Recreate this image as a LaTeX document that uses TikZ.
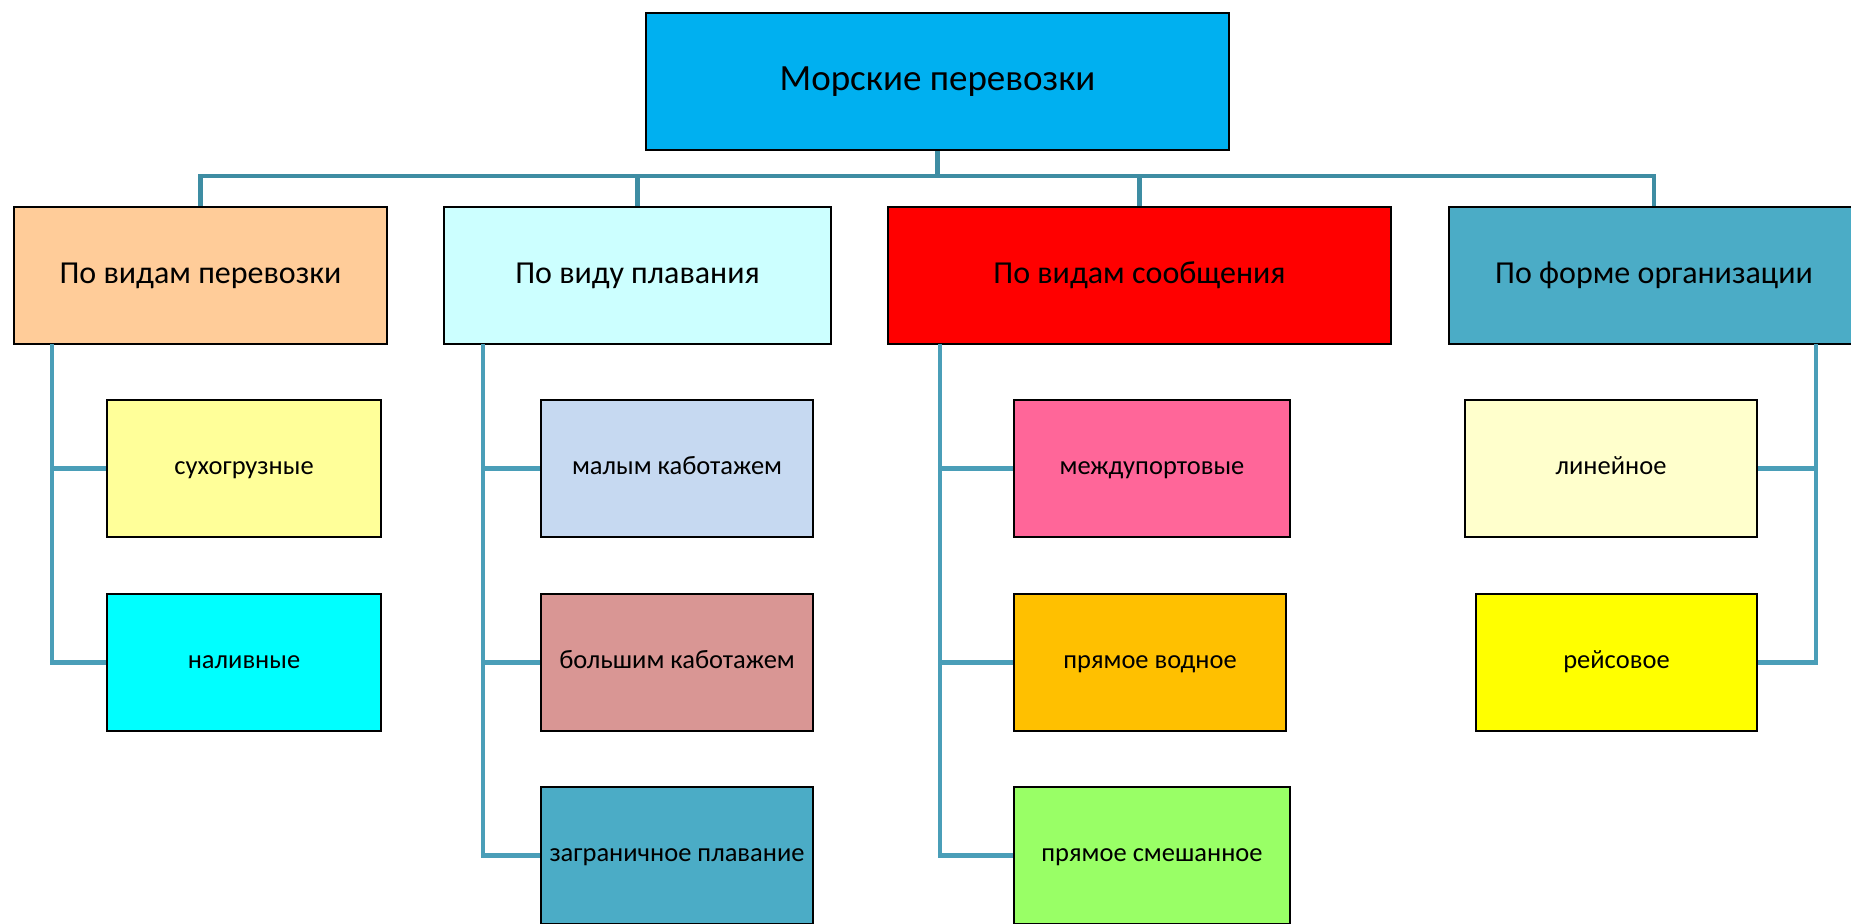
\documentclass[tikz,border=0pt]{standalone}
\usepackage{fontspec}
\setmainfont{Carlito}
\usepackage{tikz}

\definecolor{cTop}{HTML}{00B0F0}
\definecolor{cPeach}{HTML}{FFCC99}
\definecolor{cIce}{HTML}{CCFFFF}
\definecolor{cRed}{HTML}{FF0000}
\definecolor{cTeal}{HTML}{4BACC6}
\definecolor{cLemon}{HTML}{FFFF99}
\definecolor{cAqua}{HTML}{00FFFF}
\definecolor{cSky}{HTML}{C6D9F1}
\definecolor{cRose}{HTML}{D99694}
\definecolor{cPink}{HTML}{FF6699}
\definecolor{cAmber}{HTML}{FFC000}
\definecolor{cLime}{HTML}{99FF66}
\definecolor{cCream}{HTML}{FFFFCC}
\definecolor{cYellow}{HTML}{FFFF00}
\definecolor{cBus}{HTML}{3E8DA3}
\definecolor{cLink}{HTML}{4A9EB8}

\tikzset{
  box/.style={draw=black, line width=2.5pt, minimum height=137pt, inner sep=0pt, anchor=center},
  rootbox/.style={box, font=\fontsize{37}{42}\selectfont, text height=27pt, text depth=9.6pt},
  catbox/.style={box, font=\fontsize{32}{37}\selectfont, text height=23pt, text depth=8pt},
  itembox/.style={box, font=\fontsize{26.5}{31}\selectfont, text height=19.5pt, text depth=7pt},
  bus/.style={draw=cBus, line width=4.5pt},
  link/.style={draw=cLink, line width=4.5pt}
}

\begin{document}
\begin{tikzpicture}[x=1pt, y=-1pt]
\useasboundingbox (0,0) rectangle (1851,923);
\fill[white] (0,0) rectangle (1851,923);
\clip (0,0) rectangle (1851,923);

% root
\node[rootbox, fill=cTop, minimum width=583pt] (root) at (937.5,81.5) {Морские перевозки};

% categories
\node[catbox, fill=cPeach, minimum width=373pt] (vid) at (200.5,275.5) {По видам перевозки};
\node[catbox, fill=cIce, minimum width=387pt] (plav) at (637.5,275.5) {По виду плавания};
\node[catbox, fill=cRed, minimum width=503pt] (soob) at (1139.5,275.5) {По видам сообщения};
\node[catbox, fill=cTeal, minimum width=410pt] (org) at (1654,275.5) {По форме организации};

% items
\node[itembox, fill=cLemon, minimum width=274pt] (suh) at (244,468.5) {сухогрузные};
\node[itembox, fill=cAqua, minimum width=274pt] (nal) at (244,662.5) {наливные};

\node[itembox, fill=cSky, minimum width=272pt] (mal) at (677,468.5) {малым каботажем};
\node[itembox, fill=cRose, minimum width=272pt] (bol) at (677,662.5) {большим каботажем};
\node[itembox, fill=cTeal, minimum width=272pt] (zagr) at (677,855.5) {заграничное плавание};

\node[itembox, fill=cPink, minimum width=276pt] (mezh) at (1152,468.5) {междупортовые};
\node[itembox, fill=cAmber, minimum width=272pt] (vod) at (1150,662.5) {прямое водное};
\node[itembox, fill=cLime, minimum width=276pt] (smesh) at (1152,855.5) {прямое смешанное};

\node[itembox, fill=cCream, minimum width=292pt] (lin) at (1611,468.5) {линейное};
\node[itembox, fill=cYellow, minimum width=281pt] (reis) at (1616.5,662.5) {рейсовое};

% top bus
\draw[bus] (root.south) -- ++(0,27);
\draw[bus] (vid.north) -- ++(0,-30) -| (org.north);
\draw[bus] (plav.north) -- ++(0,-30);
\draw[bus] (soob.north) -- ++(0,-30);

% trunks
\coordinate (t1) at (52,344);
\coordinate (t2) at (483,344);
\coordinate (t3) at (940,344);
\coordinate (t4) at (1816,344);

\draw[link] (t1) |- (nal.west);
\draw[link] (t1 |- suh.west) -- (suh.west);

\draw[link] (t2) |- (zagr.west);
\draw[link] (t2 |- mal.west) -- (mal.west);
\draw[link] (t2 |- bol.west) -- (bol.west);

\draw[link] (t3) |- (smesh.west);
\draw[link] (t3 |- mezh.west) -- (mezh.west);
\draw[link] (t3 |- vod.west) -- (vod.west);

\draw[link] (t4) |- (reis.east);
\draw[link] (t4 |- lin.east) -- (lin.east);
\end{tikzpicture}
\end{document}
